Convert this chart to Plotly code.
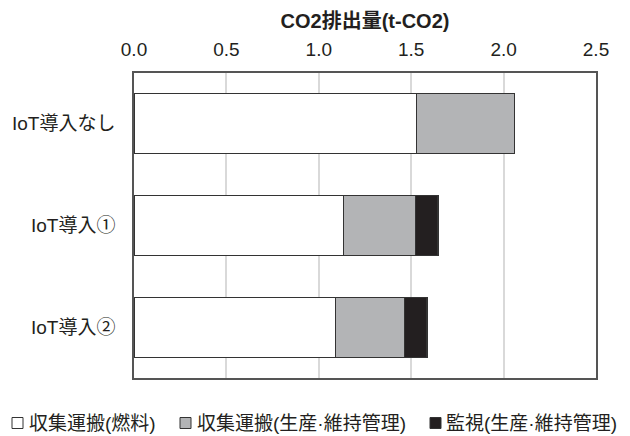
import plotly.graph_objects as go

categories = ["IoT導入なし", "IoT導入①", "IoT導入②"]
series_names = ["収集運搬(燃料)", "収集運搬(生産·維持管理)", "監視(生産·維持管理)"]
fuel = [1.53, 1.135, 1.09]
transport_maint = [0.53, 0.39, 0.375]
monitoring = [0.0, 0.12, 0.12]
tick_vals = [0.0, 0.5, 1.0, 1.5, 2.0, 2.5]
tick_text = ["0.0", "0.5", "1.0", "1.5", "2.0", "2.5"]
axis_title = "CO2排出量(t-CO2)"

FONT = "Liberation Sans, Arial, Noto Sans CJK JP, sans-serif"
colors = ["#ffffff", "#b3b4b6", "#231f20"]
TXT = "#231f20"

# the page body has a default 8px margin, so the figure is drawn 8px in
OFF = 8
W, H = 630 - OFF, 436 - OFF
# plot area in window pixels
L, R, T, B = 134, 596, 73, 378

def px_x(x):
    return (x - L) / (R - L)

def px_y(y):
    return (B - y) / (B - T)

fig = go.Figure()
for name, vals, col in zip(series_names, [fuel, transport_maint, monitoring], colors):
    fig.add_trace(go.Bar(
        y=categories, x=vals, name=name, orientation="h",
        marker=dict(color=col, line=dict(color="#333333", width=1.2)),
        width=0.59, showlegend=False,
    ))

# manual legend (swatch + label), laid out like the reference
legend_items = [(12, 27), (180, 195), (430, 444)]
for (sx, tx), name, col in zip(legend_items, series_names, colors):
    fig.add_shape(type="rect", xref="paper", yref="paper",
                  x0=px_x(sx), x1=px_x(sx + 11), y0=px_y(428.5), y1=px_y(417.5),
                  fillcolor=col, line=dict(color="#333333", width=1))
    fig.add_annotation(x=px_x(tx), y=px_y(424), xref="paper", yref="paper",
                       xanchor="left", yanchor="middle", showarrow=False,
                       text=name, font=dict(size=19, color=TXT, family=FONT))

fig.update_layout(
    barmode="stack",
    width=W, height=H,
    margin=dict(l=L - OFF, r=W - (R - OFF), t=T - OFF, b=H - (B - OFF)),
    paper_bgcolor="white", plot_bgcolor="white",
    font=dict(family=FONT, size=19, color=TXT),
    showlegend=False,
    xaxis=dict(
        side="top", range=[0, 2.5], tickvals=tick_vals, ticktext=tick_text,
        showgrid=True, gridcolor="#d9d9d9", gridwidth=1.5,
        showline=True, linecolor="#555555", linewidth=1.5, mirror=True,
        zeroline=False, ticks="", ticklabelstandoff=8, automargin=False,
        tickfont=dict(size=19, color=TXT),
        title=dict(text="<b>" + axis_title + "</b>", font=dict(size=20, color=TXT), standoff=5),
    ),
    yaxis=dict(
        autorange="reversed", showline=True, linecolor="#555555", linewidth=1.5,
        mirror=True, ticks="", ticklabelstandoff=13, automargin=False,
        tickfont=dict(size=19, color=TXT),
    ),
)

fig.write_html("out.html")
